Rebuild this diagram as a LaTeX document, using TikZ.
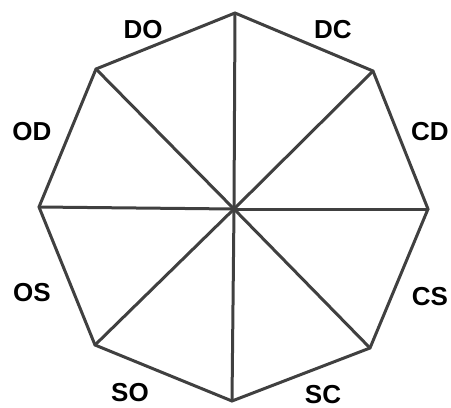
\documentclass[tikz,border=0pt]{standalone}
\usepackage{fontspec}
\setmainfont{Liberation Sans}
\begin{document}
\begin{tikzpicture}[x=1pt,y=-1pt,
  edge/.style={draw=black!75,line width=3pt,line join=round,line cap=round},
  lbl/.style={font=\fontsize{26}{26}\selectfont\bfseries,text=black,inner sep=0pt}]
\useasboundingbox (0,0) rectangle (451,408);
\coordinate (c) at (234,209);
\coordinate (n) at (235,13);
\coordinate (ne) at (373,71);
\coordinate (e) at (428,209);
\coordinate (se) at (370,348);
\coordinate (s) at (232,401);
\coordinate (sw) at (95,345);
\coordinate (w) at (39,207);
\coordinate (nw) at (96,69);
\draw[edge] (n) -- (ne) -- (e) -- (se) -- (s) -- (sw) -- (w) -- (nw) -- cycle;
\foreach \p in {n,ne,e,se,s,sw,w,nw} \draw[edge] (c) -- (\p);
\node[lbl] (DO) at (143,30) {DO};
\node[lbl] (DC) at (333,30) {DC};
\node[lbl] (CD) at (430,132) {CD};
\node[lbl] (OD) at (32,132) {OD};
\node[lbl] (OS) at (32,293) {OS};
\node[lbl] (CS) at (430,297) {CS};
\node[lbl] (SO) at (130,393) {SO};
\node[lbl] (SC) at (323,395) {SC};
\end{tikzpicture}
\end{document}
